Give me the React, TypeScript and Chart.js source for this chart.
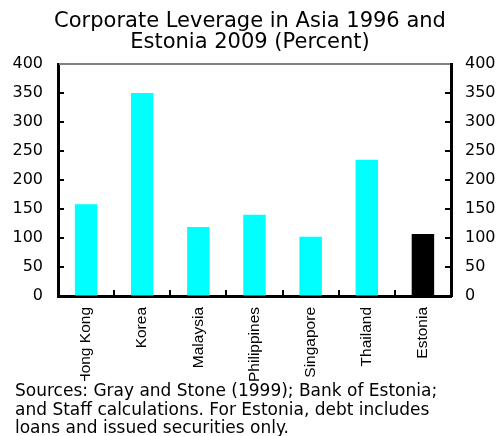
import { useEffect, useRef } from "react";
import { Chart, registerables } from "chart.js";

Chart.register(...registerables);

const TITLE_LINES = ["Corporate Leverage in Asia 1996 and", "Estonia 2009 (Percent)"];
const CATEGORIES = ["Hong Kong", "Korea", "Malaysia", "Philippines", "Singapore", "Thailand", "Estonia"];
const LEVERAGE = [158, 350, 119, 140, 102, 235, 107];
const BAR_COLORS = ["#00FFFF", "#00FFFF", "#00FFFF", "#00FFFF", "#00FFFF", "#00FFFF", "#000000"];
const Y_MIN = 0;
const Y_MAX = 400;
const Y_STEP = 50;
const SOURCE_LINES = [
  "Sources: Gray and Stone (1999); Bank of Estonia;",
  "and Staff calculations. For Estonia, debt includes",
  "loans and issued securities only.",
];

const W = 500;
const H = 436;
const PLOT_LEFT = 58;
const PLOT_RIGHT = 451;
const PLOT_BOTTOM = 296;

const innerTicks = {
  id: "innerTicks",
  afterDraw(chart: any) {
    const { ctx, chartArea: a, scales } = chart;
    const y = scales.y;
    const x = scales.x;
    const line = (x1: number, y1: number, x2: number, y2: number) => {
      ctx.beginPath();
      ctx.moveTo(x1, y1);
      ctx.lineTo(x2, y2);
      ctx.stroke();
    };
    ctx.save();
    ctx.strokeStyle = "#808080";
    ctx.lineWidth = 2;
    line(a.left + 1, a.top, a.right - 1, a.top);
    ctx.strokeStyle = "#000000";
    ctx.lineWidth = 2;
    y.ticks.forEach((t: any) => {
      if (t.value === Y_MIN || t.value === Y_MAX) return;
      const py = Math.round(y.getPixelForValue(t.value));
      line(a.left, py, a.left + 6, py);
      line(a.right - 6, py, a.right, py);
    });
    for (let i = 1; i < x.ticks.length; i++) {
      const px = Math.round((x.getPixelForTick(i - 1) + x.getPixelForTick(i)) / 2);
      line(px, a.bottom, px, a.bottom - 6);
    }
    ctx.restore();
  },
};

export default function App() {
  const ref = useRef<HTMLCanvasElement | null>(null);

  useEffect(() => {
    if (!ref.current) return;
    const tickFont = { family: "'DejaVu Sans'", size: 16 };
    const chart = new Chart(ref.current, {
      type: "bar",
      data: {
        labels: CATEGORIES,
        datasets: [
          {
            data: LEVERAGE,
            backgroundColor: BAR_COLORS,
            borderWidth: 0,
            barPercentage: 0.4,
            categoryPercentage: 1,
            yAxisID: "y",
          },
        ],
      },
      plugins: [innerTicks],
      options: {
        responsive: false,
        animation: false,
        layout: { padding: 0 },
        plugins: {
          legend: { display: false },
          tooltip: { enabled: false },
          title: {
            display: true,
            text: TITLE_LINES,
            color: "#000000",
            font: { family: "'DejaVu Sans'", size: 21, weight: "normal", lineHeight: 1 },
            padding: { top: 11.5, bottom: 10.5 },
          },
        },
        scales: {
          x: {
            grid: { display: true, drawOnChartArea: false, drawTicks: false },
            border: { display: true, color: "#000000", width: 3 },
            ticks: {
              color: "#000000",
              font: { family: "'Liberation Sans'", size: 15.5 },
              minRotation: 90,
              maxRotation: 90,
              autoSkip: false,
              padding: 11,
            },
            afterFit: (s: any) => {
              s.height = H - PLOT_BOTTOM;
            },
          },
          y: {
            position: "left",
            min: Y_MIN,
            max: Y_MAX,
            grid: { display: true, drawOnChartArea: false, drawTicks: false },
            border: { display: true, color: "#000000", width: 3 },
            ticks: { stepSize: Y_STEP, color: "#000000", font: tickFont, padding: 15 },
            afterFit: (s: any) => {
              s.width = PLOT_LEFT;
            },
          },
          y2: {
            position: "right",
            min: Y_MIN,
            max: Y_MAX,
            grid: { display: true, drawOnChartArea: false, drawTicks: false },
            border: { display: true, color: "#000000", width: 3 },
            ticks: { stepSize: Y_STEP, color: "#000000", font: tickFont, padding: 14 },
            afterFit: (s: any) => {
              s.width = W - PLOT_RIGHT;
            },
          },
        },
      },
    } as any);
    return () => chart.destroy();
  }, []);

  return (
    <div style={{ position: "absolute", left: 0, top: 0, width: W, height: H, background: "#ffffff" }}>
      <canvas ref={ref} width={W} height={H} style={{ display: "block" }} />
      <div
        style={{
          position: "absolute",
          left: 15,
          top: 381,
          width: W - 15,
          height: H - 381,
          background: "#ffffff",
          fontFamily: "'DejaVu Sans'",
          fontSize: 17,
          lineHeight: "18.7px",
          color: "#000000",
          whiteSpace: "pre",
        }}
      >
        {SOURCE_LINES.map((l, i) => (
          <div key={i}>{l}</div>
        ))}
      </div>
    </div>
  );
}
